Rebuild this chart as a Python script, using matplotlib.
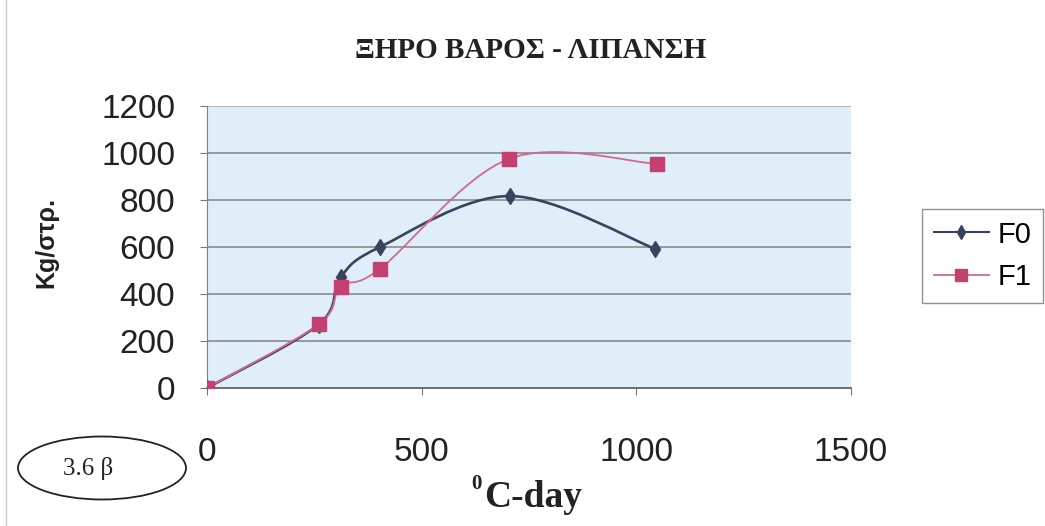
#!/usr/bin/env python3
import matplotlib.pyplot as plt
import numpy as np
from matplotlib.path import Path
from matplotlib.patches import PathPatch, Ellipse
from matplotlib.lines import Line2D

# values
days_f0 = [0, 260, 311, 403, 706, 1043]
kg_f0 = [0, 270, 471, 600, 817, 593]
days_f1 = [0, 260, 311, 403, 703, 1047]
kg_f1 = [0, 271, 431, 507, 975, 954]
series_names = ['F0', 'F1']
x_ticks = [0, 500, 1000, 1500]
y_ticks = [0, 200, 400, 600, 800, 1000, 1200]

f0_col = '#38435e'
f1_line = '#cf6a93'
f1_mark = '#c4416f'


def smooth_path(xs, ys):
    # excel style smoothed line: bezier segments through the points
    pts = np.column_stack([xs, ys]).astype(float)
    n = len(pts)
    verts = [pts[0]]
    codes = [Path.MOVETO]
    for i in range(n - 1):
        p0 = pts[i - 1] if i > 0 else pts[i]
        p1 = pts[i]
        p2 = pts[i + 1]
        p3 = pts[i + 2] if i + 2 < n else pts[i + 1]
        verts += [p1 + (p2 - p0) / 6.0, p2 - (p3 - p1) / 6.0, p2]
        codes += [Path.CURVE4] * 3
    return Path(verts, codes)


fig = plt.figure(figsize=(10.45, 5.26), dpi=100)
ax = fig.add_axes([207 / 1045, 1 - 388 / 526, (851 - 207) / 1045, (388 - 106) / 526])
ax.set_facecolor('#dfeef8')

ax.add_patch(PathPatch(smooth_path(days_f0, kg_f0), facecolor='none',
                       edgecolor=f0_col, lw=1.9, zorder=3))
ax.plot(days_f0, kg_f0, ls='none', marker='d', ms=8, color=f0_col, zorder=4)
ax.add_patch(PathPatch(smooth_path(days_f1, kg_f1), facecolor='none',
                       edgecolor=f1_line, lw=1.3, zorder=5))
ax.plot(days_f1, kg_f1, ls='none', marker='s', ms=10, color=f1_mark, zorder=6)

ax.set_xlim(0, 1500)
ax.set_ylim(0, 1200)
ax.set_xticks(x_ticks)
ax.set_yticks(y_ticks)
for y in y_ticks[1:]:
    ax.axhline(y, color='#8a8a8a' if y < 1200 else '#b0b0b0', lw=1.2, zorder=1)

for s in ['top', 'right']:
    ax.spines[s].set_visible(False)
ax.spines['left'].set_color('#808080')
ax.spines['bottom'].set_color('#555555')
ax.spines['bottom'].set_linewidth(1.2)
ax.tick_params(axis='x', length=5, color='#777777', pad=30, labelsize=24)
ax.tick_params(axis='y', length=5, color='#777777', pad=18, labelsize=24)
for lab in ax.get_xticklabels() + ax.get_yticklabels():
    lab.set_fontfamily('Liberation Sans')
    lab.set_color('#222222')

fig.text(531 / 1045, 1 - 50 / 526, 'ΞΗΡΟ ΒΑΡΟΣ - ΛΙΠΑΝΣΗ', ha='center', va='center',
         fontsize=21, fontweight='bold', family='Liberation Serif', color='#222222')
fig.text(46 / 1045, 1 - 243 / 526, 'Kg/στρ.', rotation=90, ha='center', va='center',
         fontsize=18, fontweight='bold', family='Liberation Sans', color='#222222')
fig.text(484 / 1045, 1 - 507 / 526, 'C-day', ha='left', va='baseline',
         fontsize=27, fontweight='bold', family='Liberation Serif', color='#222222')
fig.text(482 / 1045, 1 - 489 / 526, '0', ha='right', va='baseline',
         fontsize=15, fontweight='bold', family='Liberation Serif', color='#222222')

handles = [Line2D([], [], color=f0_col, lw=1.5, marker='d', ms=7),
           Line2D([], [], color=f1_line, lw=1.3, marker='s', ms=9,
                  markerfacecolor=f1_mark, markeredgecolor=f1_mark)]
leg = fig.legend(handles, series_names, loc='center left',
                 bbox_to_anchor=(922 / 1045, 1 - 256 / 526), fancybox=False,
                 prop={'family': 'Liberation Sans', 'size': 21},
                 handlelength=1.9, handletextpad=0.3, borderpad=0.4,
                 labelspacing=0.5, borderaxespad=0)
leg.get_frame().set_edgecolor('#777777')
leg.get_frame().set_linewidth(1.0)

fig.add_artist(Ellipse((102 / 1045, 1 - 468 / 526), 168 / 1045, 63 / 526,
                       transform=fig.transFigure, facecolor='none',
                       edgecolor='#222222', lw=1.3))
fig.text(88 / 1045, 1 - 468 / 526, '3.6 β', ha='center', va='center',
         fontsize=18, family='Liberation Serif', color='#222222')
fig.add_artist(Line2D([6 / 1045, 6 / 1045], [0, 1], transform=fig.transFigure,
                      color='#c8c8c8', lw=1))

fig.savefig('out.png', dpi=100)
